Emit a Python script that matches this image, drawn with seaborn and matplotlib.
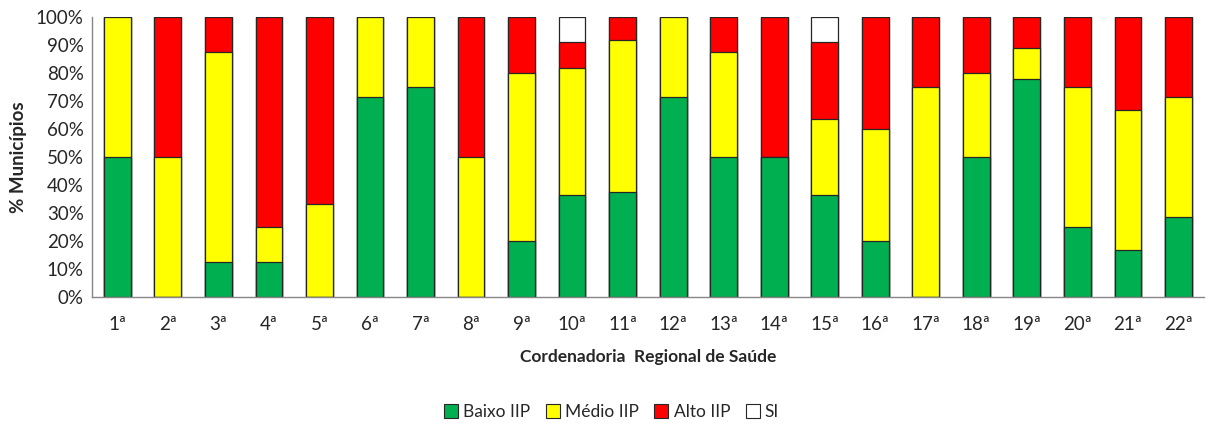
import numpy as np
import matplotlib
matplotlib.use("Agg")
import matplotlib.pyplot as plt
import seaborn as sns
from matplotlib.patches import Patch

# data (percent of municipalities per regional)
regionais = ["1ª", "2ª", "3ª", "4ª", "5ª", "6ª", "7ª", "8ª", "9ª", "10ª", "11ª",
             "12ª", "13ª", "14ª", "15ª", "16ª", "17ª", "18ª", "19ª", "20ª", "21ª", "22ª"]
baixo = [50, 0, 12.5, 12.5, 0, 71.4, 75, 0, 20, 36.4, 37.5,
         71.4, 50, 50, 36.4, 20, 0, 50, 77.8, 25, 16.7, 28.6]
medio = [50, 50, 75, 12.5, 33.3, 28.6, 25, 50, 60, 45.5, 54.2,
         28.6, 37.5, 0, 27.3, 40, 75, 30, 11.1, 50, 50, 42.9]
alto = [0, 50, 12.5, 75, 66.7, 0, 0, 50, 20, 9.1, 8.3,
        0, 12.5, 50, 27.3, 40, 25, 20, 11.1, 25, 33.3, 28.6]
si = [0, 0, 0, 0, 0, 0, 0, 0, 0, 9.1, 0,
      0, 0, 0, 9.1, 0, 0, 0, 0, 0, 0, 0]

series = ["Baixo IIP", "Médio IIP", "Alto IIP", "SI"]
cores = ["#00B050", "#FFFF00", "#FF0000", "#FFFFFF"]

sns.set_style("white")
plt.rcParams["font.family"] = ["Lato", "DejaVu Sans"]

fig = plt.figure(figsize=(12.11, 4.24), dpi=100)
ax = fig.add_axes([0.076, 0.2995, 0.918, 0.6605])

valores = np.array([baixo, medio, alto, si])
acum = np.cumsum(valores, axis=0)

# stacked: draw the tallest layer first, the rest over it
for k in range(3, -1, -1):
    alturas = acum[k]
    if k == 3:
        alturas = np.where(valores[3] > 0, acum[3], acum[2])
    sns.barplot(x=regionais, y=alturas, color=cores[k], saturation=1,
                width=0.53, edgecolor="#262626", linewidth=0.9, ax=ax)

ax.set_ylim(0, 100)
ax.set_xlim(-0.5, len(regionais) - 0.5)
ax.set_yticks(range(0, 101, 10))
ax.set_yticklabels([f"{v}%" for v in range(0, 101, 10)], fontsize=13.5, color="#262626")
ax.tick_params(axis="y", length=4, color="#868686", width=1, pad=2)

ax.set_xticks(np.arange(-0.5, len(regionais), 1), minor=True)
ax.tick_params(axis="x", which="minor", length=6, color="#868686", width=1, direction="out")
ax.tick_params(axis="x", which="major", length=0, pad=14, labelsize=13.5, labelcolor="#262626")

for s in ["top", "right"]:
    ax.spines[s].set_visible(False)
for s in ["left", "bottom"]:
    ax.spines[s].set_color("#868686")
    ax.spines[s].set_linewidth(1)

ax.set_ylabel("% Municípios", fontsize=13.5, fontweight="bold", labelpad=6)
ax.set_xlabel("Cordenadoria  Regional de Saúde", fontsize=12.5, fontweight="bold", labelpad=11)

handles = [Patch(facecolor=c, edgecolor="#262626", linewidth=0.8, label=l)
           for c, l in zip(cores, series)]
fig.legend(handles=handles, loc="center", bbox_to_anchor=(0.505, 0.028), ncol=4,
           frameon=False, fontsize=12.5, handlelength=0.8, handleheight=0.8,
           handletextpad=0.3, columnspacing=0.9)

fig.savefig("out.png", dpi=100)
